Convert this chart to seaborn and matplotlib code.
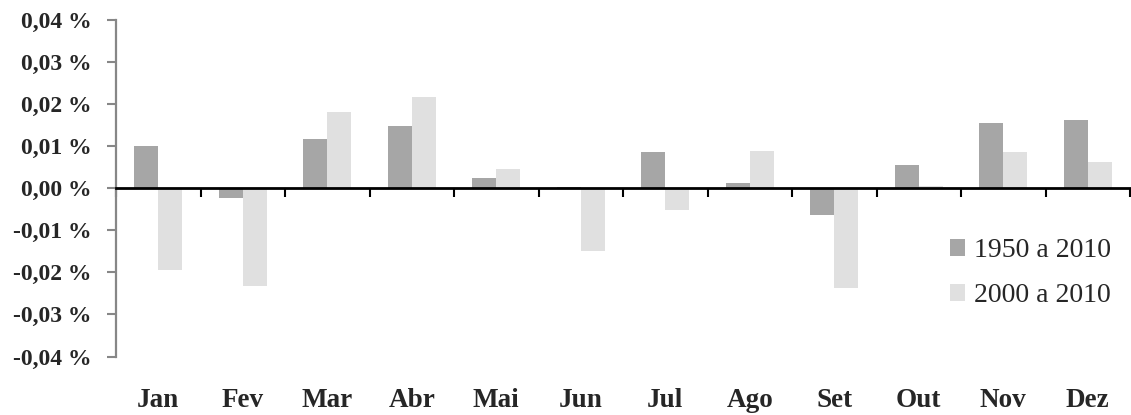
import matplotlib
matplotlib.use("Agg")
import matplotlib.pyplot as plt
import seaborn as sns
import pandas as pd
from matplotlib.ticker import FuncFormatter, FixedLocator

months = ["Jan", "Fev", "Mar", "Abr", "Mai", "Jun", "Jul", "Ago", "Set", "Out", "Nov", "Dez"]
series_names = ["1950 a 2010", "2000 a 2010"]
vals_1950 = [0.0101, -0.0024, 0.0117, 0.0149, 0.0025, 0.0004, 0.0087, 0.0012, -0.0064, 0.0056, 0.0156, 0.0162]
vals_2000 = [-0.0195, -0.0233, 0.0182, 0.0218, 0.0045, -0.0150, -0.0052, 0.0089, -0.0237, 0.0006, 0.0087, 0.0062]
colors = ["#a6a6a6", "#e0e0e0"]
yticks = [-0.04, -0.03, -0.02, -0.01, 0.0, 0.01, 0.02, 0.03, 0.04]

df = pd.DataFrame({
    "mes": months * 2,
    "serie": [series_names[0]] * 12 + [series_names[1]] * 12,
    "valor": vals_1950 + vals_2000,
})

sns.set_style("white")
plt.rcParams["font.family"] = ["Liberation Serif", "DejaVu Serif"]

fig = plt.figure(figsize=(11.31, 4.15), dpi=100)
ax = fig.add_axes([116 / 1131, 1 - 356.5 / 415, (1130 - 116) / 1131, (356.5 - 20) / 415])

sns.barplot(data=df, x="mes", y="valor", hue="serie", order=months, hue_order=series_names,
            palette=colors, width=0.57, linewidth=0, saturation=1, ax=ax, errorbar=None)

ax.set_xlim(-0.5, 11.5)
ax.set_ylim(-0.04, 0.04)
ax.set_xlabel("")
ax.set_ylabel("")

for s in ["top", "right"]:
    ax.spines[s].set_visible(False)
ax.spines["bottom"].set_position(("data", 0))
ax.spines["bottom"].set_color("black")
ax.spines["bottom"].set_linewidth(2)
ax.spines["left"].set_color("#878787")
ax.spines["left"].set_linewidth(1.6)

ax.xaxis.set_major_locator(FixedLocator([i - 0.5 for i in range(13)]))
ax.set_xticklabels([], minor=False)
ax.set_xticks(range(12), minor=True)
ax.set_xticklabels(months, minor=True)
ax.tick_params(axis="x", which="major", direction="out", length=6.5, width=1.5, color="black", bottom=True)
ax.tick_params(axis="x", which="minor", length=0, pad=144, labelsize=19.5)
for t in ax.get_xticklabels(minor=True):
    t.set_fontweight("bold")

ax.set_yticks(yticks)
ax.yaxis.set_major_formatter(FuncFormatter(lambda v, p: ("{:.2f} %".format(v)).replace(".", ",").replace("-0,00", "0,00")))
ax.tick_params(axis="y", direction="out", length=6.5, width=1.5, color="#878787", left=True, pad=11, labelsize=17)
for t in ax.get_yticklabels():
    t.set_fontweight("bold")

leg = ax.legend(loc="upper left", bbox_to_anchor=(950 / 1131, 1 - 238 / 415), bbox_transform=fig.transFigure,
                frameon=False, fontsize=20, handlelength=0.55, handleheight=0.55, handletextpad=0.3,
                labelspacing=0.72, borderpad=0, borderaxespad=0)

fig.savefig("out.png", dpi=100)
